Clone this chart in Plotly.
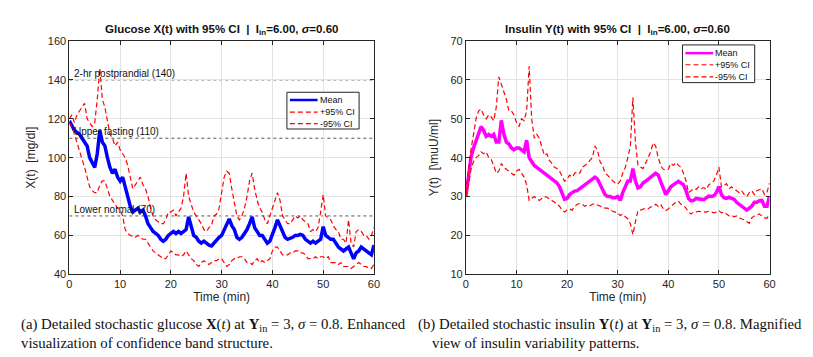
import plotly.graph_objects as go

# time grid (min), one reading every half minute
t = [i * 0.5 for i in range(121)]

# glucose X(t) [mg/dl], rows of 10 minutes
glucose_mean = [
    119, 116, 114, 113, 112, 110, 108, 106, 100, 97, 95, 102, 114, 108, 106, 100, 95, 92, 94, 90,
    88, 90, 84, 80, 75, 72, 73, 74, 72, 73, 70, 66, 64, 62, 61, 60, 58, 57, 58, 60,
    61, 62, 61, 62, 61, 62, 63, 69.5, 64, 60, 59, 57, 56, 57, 56, 55, 54.6, 56, 58, 59,
    60, 63, 66, 68.5, 65, 63, 59, 58, 59, 61, 63, 66, 69.5, 64, 62, 60, 60, 58, 56, 57,
    60, 64, 68, 65, 62, 59, 58, 58.5, 59, 60, 60, 60.5, 60, 58, 57, 56, 57, 56, 57, 58,
    64.5, 60, 59, 58, 58, 56, 54, 53, 52, 53, 54, 51, 48, 51, 52, 54, 53, 52, 51, 50,
    55,
]
glucose_upper = [
    120, 122, 118, 122, 124, 126, 128, 120, 118, 116, 118, 130, 146, 130, 126, 118, 112, 110, 106, 108,
    104, 102, 100, 96, 90, 84, 86, 88, 90, 86, 84, 80, 74, 70, 68, 67, 66, 66, 68, 72,
    72, 73, 70, 72, 74, 80, 92, 80, 76, 72, 70, 68, 66, 63, 62, 64, 65, 70, 71, 74,
    82, 90, 93, 92, 84, 76, 70, 68, 70, 74, 80, 88, 92, 84, 78, 74, 72, 68, 66, 70,
    74, 78, 82, 78, 70, 68, 66, 66, 68, 70, 69, 70, 68, 67, 66, 62, 63, 62, 64, 72,
    81, 70, 69, 68, 65, 63, 62, 58, 58, 56, 68, 56, 54, 62, 63, 62, 60, 60, 58, 60,
    64,
]
glucose_lower = [
    118, 116, 112, 108, 104, 100, 95, 90, 85, 83, 82, 82, 86, 88, 88, 84, 80, 78, 76, 74,
    73, 70, 63, 61, 60, 59.5, 59, 60, 59, 58, 58, 56, 54, 52, 51, 50, 49, 48, 48, 50,
    52, 51, 50, 50, 49, 50, 52, 50, 48, 47, 45, 44, 46, 47, 46, 45, 46, 47, 47, 48,
    48, 46, 44, 45, 47, 48, 48, 49, 49, 48, 46, 46, 45, 47, 48, 46, 47, 46, 47, 48,
    52, 54, 54, 52, 50, 50, 50, 51, 51, 52, 52, 51, 51, 50, 48, 48, 48, 49, 48, 49,
    49, 48, 49, 46, 46, 46, 45, 46, 44, 44, 44, 43, 44, 45, 46, 45, 44, 44, 43, 43,
    45,
]

# insulin Y(t) [muU/ml], rows of 10 minutes
insulin_mean = [
    30, 36, 40, 42.5, 44.5, 46.5, 48, 47, 45.5, 46, 45.5, 46, 44, 44, 49.6, 46, 44, 43.5, 42.5, 42,
    42.5, 42.5, 42, 41.5, 44.5, 40, 39, 38, 37.5, 37, 36.6, 36, 35.4, 35, 34.5, 34, 33.5, 32.5, 31, 29.3,
    29.5, 30.5, 31, 31.4, 31.5, 32, 32.5, 33, 33.5, 34, 34.5, 35, 34.5, 33, 32, 30.5, 30, 30, 29.7, 29.7,
    30, 29, 31, 32.5, 34, 34, 37.2, 34, 32.2, 32.5, 33.5, 33.9, 34.5, 35, 35.5, 36, 35.5, 34, 32, 30.5,
    31.5, 32.5, 33, 33.5, 33.9, 33.5, 33, 31.5, 29.5, 28.9, 29, 29.5, 29.5, 29.3, 29.2, 29.8, 30.1, 30, 30.2, 31,
    32.6, 30.5, 29.7, 29.5, 29.8, 29.5, 29.3, 28.5, 28, 27.5, 26.8, 26.5, 27, 27.5, 28.5, 28.5, 28.9, 29, 27.5, 27.5,
    30.1,
]
insulin_upper = [
    31, 37, 42, 46, 50, 52, 52.5, 51, 50, 51, 50.5, 49.5, 53, 60.8, 59, 57, 55, 52, 52, 51,
    49, 48, 50, 49.5, 52, 63.5, 50, 45, 46, 45, 43, 40.6, 41, 39.3, 38.5, 37.5, 37.2, 36.5, 35.3, 33.9,
    34.5, 35.5, 35, 36, 36.4, 36, 37.5, 38, 38.5, 39.3, 40, 43, 42, 39, 38, 36, 35.5, 34.7, 34, 33.5,
    33.2, 34, 36, 37.5, 40, 43, 55.5, 44, 38, 37.5, 37.2, 38.5, 40, 41.5, 43.8, 43, 40, 38, 37, 36.8,
    37, 38.5, 38, 38.8, 38, 37.5, 36, 34, 31, 31.5, 32, 31.8, 32.5, 32, 32.3, 31.8, 33, 33.5, 34, 35.5,
    37.6, 32.5, 33, 33.3, 32, 32.5, 32, 31.5, 31, 31.5, 30.5, 30, 31, 31.5, 30.5, 31.5, 31.8, 32, 30.5, 31,
    33.5,
]
insulin_lower = [
    30, 33, 37, 39, 40, 40.5, 41.5, 41, 41.5, 40, 39.5, 38, 36, 36.5, 38.5, 37.5, 37, 36.5, 36, 35.5,
    36.5, 37, 36, 35, 33, 29, 29.5, 30, 29.5, 29, 29.5, 30, 29.8, 29.5, 29, 28.5, 28, 27.5, 26.5, 26,
    26.5, 26.8, 26.5, 27.5, 28, 28.2, 28, 27.5, 27.8, 27.6, 28, 28.2, 27.8, 27.5, 27.3, 27, 27, 26.5, 26.2, 26,
    25.8, 25.1, 25.5, 24.8, 24.3, 23, 20.2, 23.5, 26.4, 26.5, 26.8, 27, 26.8, 27.3, 27.5, 28, 27.5, 28, 26.8, 26.4,
    26.8, 27.5, 28, 28.5, 28.8, 28, 27.7, 27, 26, 25.5, 26, 26, 26.2, 26.1, 26, 26, 26.2, 26, 25.8, 26,
    26.4, 25.8, 26, 25.5, 25, 25.2, 24.8, 25, 24.5, 24.2, 24, 23.5, 23.1, 24.5, 25, 25.2, 25.5, 25, 24.5, 24.4,
    25.5,
]

ref_levels = [140, 110, 70]
ref_labels = ['2-hr postprandial (140)', 'Upper fasting (110)', 'Lower normal (70)']
legend_names = ['Mean', '+95% CI', '-95% CI']

W, H = 813, 357
CI_DASH = '5px,3px'

fig = go.Figure()

panels = [
    ('x', 'y', '#0000ff', glucose_mean, glucose_upper, glucose_lower),
    ('x2', 'y2', '#ff00ff', insulin_mean, insulin_upper, insulin_lower),
]
for xa, ya, col, mean, upper, lower in panels:
    fig.add_trace(go.Scatter(x=t, y=mean, mode='lines', name=legend_names[0],
                             line=dict(color=col, width=3.5), xaxis=xa, yaxis=ya))
    fig.add_trace(go.Scatter(x=t, y=upper, mode='lines', name=legend_names[1],
                             line=dict(color='#ff0000', width=1.2, dash=CI_DASH), xaxis=xa, yaxis=ya))
    fig.add_trace(go.Scatter(x=t, y=lower, mode='lines', name=legend_names[2],
                             line=dict(color='#ff0000', width=1.2, dash=CI_DASH), xaxis=xa, yaxis=ya))

for lvl, lab in zip(ref_levels, ref_labels):
    fig.add_shape(type='line', xref='x', yref='y', x0=0, x1=60, y0=lvl, y1=lvl,
                  line=dict(color='#555555', width=1, dash='dot'), layer='below')
    fig.add_annotation(x=0.6, y=lvl, xref='x', yref='y', text=lab, showarrow=False,
                       xanchor='left', yanchor='bottom', yshift=-1, font=dict(size=10, color='#111'))

# boxed legends (small, MATLAB-like)
def px(x, y):
    return x / W, 1 - y / H

for (bx0, by0, bx1, by1), rows, col in [((279, 81, 352, 119), (89, 101.5, 113.5), '#0000ff'),
                                       ((679, 32, 752, 71), (40.5, 52.5, 65), '#ff00ff')]:
    x0, y0 = px(bx0, by0)
    x1, y1 = px(bx1, by1)
    fig.add_shape(type='rect', xref='paper', yref='paper', x0=x0, x1=x1, y0=y1, y1=y0,
                  line=dict(color='#262626', width=1), fillcolor='white', layer='above')
    for i, (yy, name) in enumerate(zip(rows, legend_names)):
        lx0, ly = px(bx0 + 3, yy)
        lx1, _ = px(bx0 + 31, yy)
        if i == 0:
            ln = dict(color=col, width=2.5)
        else:
            ln = dict(color='#ff0000', width=1.2, dash=CI_DASH)
        fig.add_shape(type='line', xref='paper', yref='paper', x0=lx0, x1=lx1, y0=ly, y1=ly,
                      line=ln, layer='above')
        tx, _ = px(bx0 + 31, yy)
        fig.add_annotation(x=tx, y=ly, xref='paper', yref='paper', text=name, showarrow=False,
                           xanchor='left', yanchor='middle', font=dict(size=9, color='#111'))

axis_style = dict(showline=True, linecolor='#262626', linewidth=1, mirror='ticks', ticks='inside',
                  ticklen=4, tickcolor='#262626', showgrid=True, gridcolor='#e3e3e3', zeroline=False,
                  tickfont=dict(size=11, color='#262626'))

ylo, yhi = 1 - 269.3 / H, 1 - 28 / H
fig.update_layout(
    width=W, height=H, margin=dict(l=0, r=0, t=0, b=0),
    paper_bgcolor='white', plot_bgcolor='white', showlegend=False,
    font=dict(family='Liberation Sans, Arial, sans-serif', color='#262626'),
    xaxis=dict(domain=[59 / W, 367 / W], range=[0, 60], dtick=10, anchor='y',
               title=dict(text='Time (min)', font=dict(size=12), standoff=2), **axis_style),
    yaxis=dict(domain=[ylo, yhi], range=[40, 160], dtick=20, anchor='x',
               title=dict(text='X(t)  [mg/dl]', font=dict(size=12), standoff=9), **axis_style),
    xaxis2=dict(domain=[460 / W, 767 / W], range=[0, 60], dtick=10, anchor='y2',
                title=dict(text='Time (min)', font=dict(size=12), standoff=2), **axis_style),
    yaxis2=dict(domain=[ylo, yhi], range=[10, 70], dtick=10, anchor='x2',
                title=dict(text='Y(t)  [\\muU/ml]', font=dict(size=12), standoff=9), **axis_style),
)

# panel titles
for cx, name in [(213, 'Glucose X(t)'), (613, 'Insulin Y(t)')]:
    fig.add_annotation(x=cx / W, y=1 - 17 / H, xref='paper', yref='paper', showarrow=False,
                       xanchor='center', yanchor='middle', font=dict(size=11.5, color='#111'),
                       text=f'<b>{name} with 95% CI  |  I<sub>in</sub>=6.00, <i>σ</i>=0.60</b>')

# captions
serif = dict(family='Liberation Serif, Times New Roman, serif', size=14.8, color='#111')
captions = [
    (8, 322, '(a) Detailed stochastic glucose <b>X</b>(<i>t</i>) at <b>Y</b><sub>in</sub> = 3, '
             '<i>σ</i> = 0.8. Enhanced'),
    (8, 340, 'visualization of confidence band structure.'),
    (410, 322, '(b) Detailed stochastic insulin <b>Y</b>(<i>t</i>) at <b>Y</b><sub>in</sub> = 3, '
               '<i>σ</i> = 0.8. Magnified'),
    (424, 340, 'view of insulin variability patterns.'),
]
for cx, cy, txt in captions:
    fig.add_annotation(x=cx / W, y=1 - cy / H, xref='paper', yref='paper', showarrow=False,
                       xanchor='left', yanchor='middle', align='left', font=serif, text=txt)

fig.write_html("out.html")
